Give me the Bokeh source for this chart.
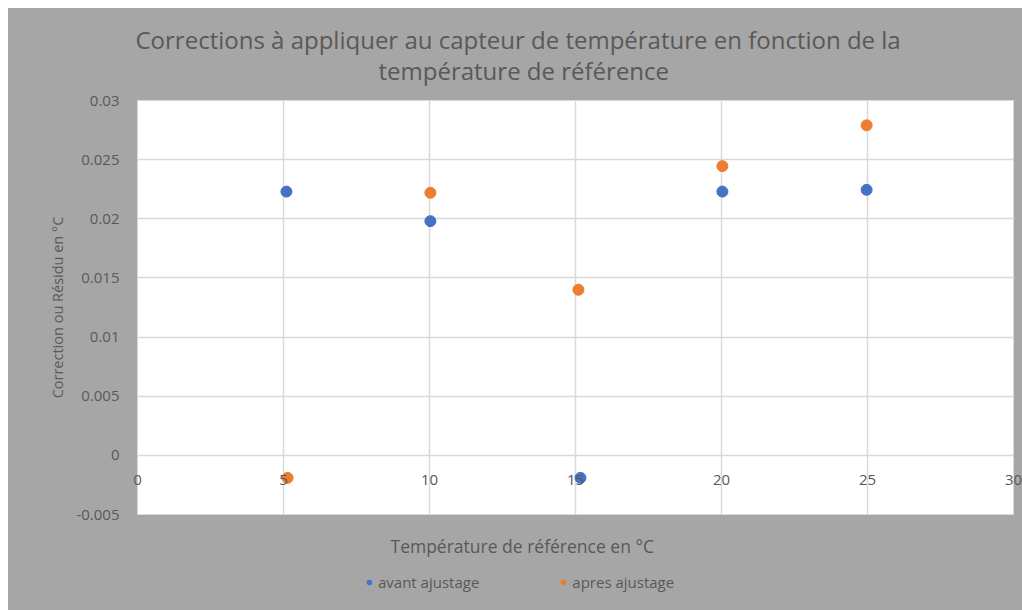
from bokeh.plotting import figure
from bokeh.models import FixedTicker, Title, Legend, LegendItem, Spacer
from bokeh.layouts import row, column
from bokeh.embed import file_html
from bokeh.resources import INLINE

title_lines = ["Corrections à appliquer au capteur de température en fonction de la",
               "température de référence"]
x_label = "Température de référence en  °C"
y_label = "Correction ou Résidu en °C"

temp_avant = [5.1, 10.03, 15.17, 20.03, 24.97]
avant = [0.0223, 0.0198, -0.0019, 0.0223, 0.02245]
temp_apres = [5.14, 10.03, 15.1, 20.03, 24.97]
apres = [-0.0019, 0.0222, 0.0140, 0.02445, 0.0279]
series_names = ["avant ajustage", "apres ajustage"]
series_colors = ["#4472c4", "#ed7d31"]

x_ticks = [0, 5, 10, 15, 20, 25, 30]
x_tick_labels = ["0", "5", "10", "15", "20", "25", "30"]
y_ticks = [-0.005, 0, 0.005, 0.01, 0.015, 0.02, 0.025, 0.03]
y_tick_labels = ["-0.005", "0", "0.005", "0.01", "0.015", "0.02", "0.025", "0.03"]

FONT = "Open Sans"
TXT = "#595959"
BG = "#a6a6a6"

p = figure(frame_width=876, frame_height=414, output_backend="svg", toolbar_location=None,
           x_range=(0, 30), y_range=(-0.005, 0.03),
           min_border_left=129, min_border_right=9, min_border_top=92, min_border_bottom=62)
p.border_fill_color = BG
p.background_fill_color = "white"
p.outline_line_color = "#d9d9d9"

# x axis labels pulled up onto the zero line
p.xaxis.ticker = FixedTicker(ticks=x_ticks)
p.xaxis.major_label_overrides = {t: l for t, l in zip(x_ticks, x_tick_labels)}
p.xaxis.axis_line_color = None
p.xaxis.major_tick_line_color = None
p.xaxis.minor_tick_line_color = None
p.xaxis.major_label_standoff = -46
p.xaxis.major_label_text_font = FONT
p.xaxis.major_label_text_font_size = "15px"
p.xaxis.major_label_text_color = TXT

p.yaxis.ticker = FixedTicker(ticks=y_ticks)
p.yaxis.major_label_overrides = {t: l for t, l in zip(y_ticks, y_tick_labels)}
p.yaxis.axis_line_color = None
p.yaxis.major_tick_line_color = None
p.yaxis.minor_tick_line_color = None
p.yaxis.major_label_standoff = 12
p.yaxis.major_label_text_font = FONT
p.yaxis.major_label_text_font_size = "15px"
p.yaxis.major_label_text_color = TXT
p.yaxis.axis_label = y_label
p.yaxis.axis_label_text_font = FONT
p.yaxis.axis_label_text_font_size = "14.5px"
p.yaxis.axis_label_text_font_style = "normal"
p.yaxis.axis_label_text_color = TXT
p.yaxis.axis_label_standoff = 6

p.xgrid.ticker = FixedTicker(ticks=x_ticks)
p.ygrid.ticker = FixedTicker(ticks=y_ticks)
for g in (p.xgrid, p.ygrid):
    g.grid_line_color = "#d9d9d9"
    g.grid_line_width = 1.5

p.scatter(temp_avant, avant, size=11, color=series_colors[0])
p.scatter(temp_apres, apres, size=11, color=series_colors[1])

# titles
t2 = Title(text=title_lines[1], align="left", offset=241, text_font=FONT,
           text_font_size="24px", text_font_style="normal", text_color=TXT, standoff=28)
t1 = Title(text=title_lines[0], align="left", offset=-2, text_font=FONT,
           text_font_size="24px", text_font_style="normal", text_color=TXT, standoff=-36)
p.add_layout(t2, "above")
p.add_layout(t1, "above")

xt = Title(text=x_label, align="left", offset=253, text_font=FONT,
           text_font_size="17.5px", text_font_style="normal", text_color=TXT, standoff=34)
p.add_layout(xt, "below")

# legend strip below the chart (same grey background); its series stay out of view
lf = figure(width=1014, height=34, output_backend="svg", toolbar_location=None,
            x_axis_type=None, y_axis_type=None, min_border=0,
            x_range=(0, 30), y_range=(1, 2))
lf.border_fill_color = BG
lf.background_fill_color = BG
lf.outline_line_color = BG
lf.outline_line_width = 2
lf.xgrid.visible = False
lf.ygrid.visible = False
lr1 = lf.scatter(temp_avant, avant, size=11, color=series_colors[0])
lr2 = lf.scatter(temp_apres, apres, size=11, color=series_colors[1])

legend = Legend(items=[LegendItem(label=series_names[0], renderers=[lr1]),
                       LegendItem(label=series_names[1], renderers=[lr2])],
                orientation="horizontal", location=(226, 18),
                background_fill_alpha=0, border_line_alpha=0,
                label_text_font=FONT, label_text_font_size="15px", label_text_color=TXT,
                glyph_width=12, glyph_height=12, label_height=14, label_standoff=3,
                spacing=78, padding=0, margin=0)
lf.add_layout(legend, "center")

chart = column(p, lf, styles={"background-color": BG})
layout = row(Spacer(width=8), column(Spacer(height=8), chart))
open("out.html", "w").write(file_html(layout, INLINE))
